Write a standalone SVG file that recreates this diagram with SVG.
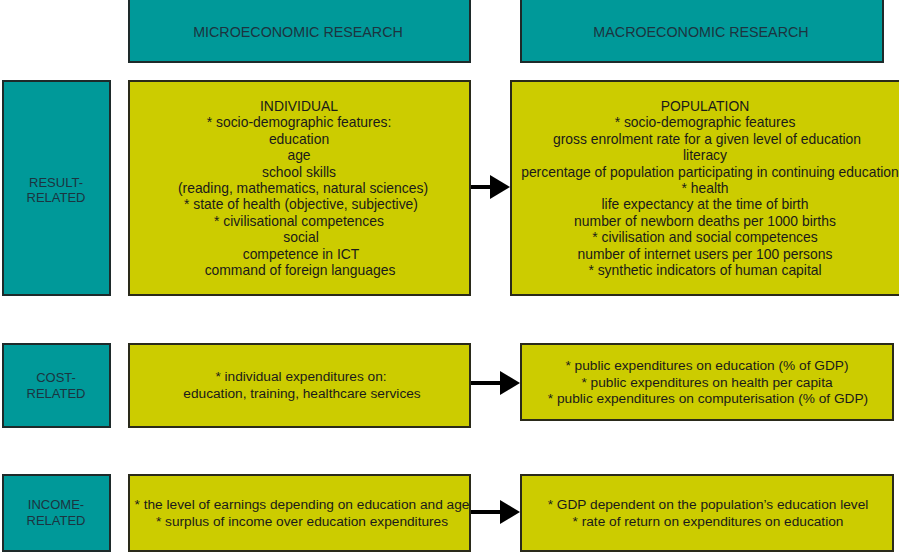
<svg xmlns="http://www.w3.org/2000/svg" width="899" height="552" viewBox="0 0 899 552">
<style>
.teal{fill:#009999;stroke:#1e2a2a;stroke-width:2}
.yel{fill:#cccc00;stroke:#2a2a1a;stroke-width:2}
.th{font-family:"Liberation Sans",Arial,sans-serif;font-size:14.3px;fill:#1c3440;text-anchor:middle}
.tl{font-family:"Liberation Sans",Arial,sans-serif;font-size:13px;fill:#1c3440;text-anchor:middle}
.ty{font-family:"Liberation Sans",Arial,sans-serif;font-size:13.9px;fill:#1a1a1a;text-anchor:middle}
.tb{font-family:"Liberation Sans",Arial,sans-serif;font-size:13.7px;fill:#1a1a1a;text-anchor:middle}
.conn{stroke:#000;stroke-width:4;fill:none}
</style>
<defs>
<marker id="ah" markerWidth="5" markerHeight="6" refX="0" refY="3" orient="auto" markerUnits="strokeWidth">
<path d="M0,0 L5,3 L0,6 Z" fill="#000"/>
</marker>
</defs>
<rect width="899" height="552" fill="#fff"/>

<g id="hdr-micro">
<rect class="teal" x="129" y="-2" width="341" height="64"/>
<text class="th" x="298" y="37">MICROECONOMIC RESEARCH</text>
</g>
<g id="hdr-macro">
<rect class="teal" x="521" y="-2" width="362" height="64"/>
<text class="th" x="701" y="37">MACROECONOMIC RESEARCH</text>
</g>

<g id="row-result">
<rect class="teal" x="3" y="81" width="107" height="214"/>
<text class="tl" x="56" y="187">RESULT-</text>
<text class="tl" x="56" y="202">RELATED</text>
</g>
<g id="micro-result">
<rect class="yel" x="129" y="81" width="341" height="214"/>
<text class="ty" x="299" y="111">INDIVIDUAL</text>
<text class="ty" x="299" y="127">* socio-demographic features:</text>
<text class="ty" x="299" y="144">education</text>
<text class="ty" x="299" y="160">age</text>
<text class="ty" x="299" y="177">school skills</text>
<text class="ty" x="303" y="193">(reading, mathematics, natural sciences)</text>
<text class="ty" x="301" y="209">* state of health (objective, subjective)</text>
<text class="ty" x="299" y="226">* civilisational competences</text>
<text class="ty" x="301" y="242">social</text>
<text class="ty" x="301" y="259">competence in ICT</text>
<text class="ty" x="300" y="275">command of foreign languages</text>
</g>
<g id="macro-result">
<rect class="yel" x="511" y="81" width="392" height="214"/>
<text class="ty" x="705" y="111">POPULATION</text>
<text class="ty" x="705" y="127">* socio-demographic features</text>
<text class="ty" x="707" y="144">gross enrolment rate for a given level of education</text>
<text class="ty" x="705" y="160">literacy</text>
<text class="ty" x="710" y="177">percentage of population participating in continuing education</text>
<text class="ty" x="705" y="193">* health</text>
<text class="ty" x="705" y="209">life expectancy at the time of birth</text>
<text class="ty" x="705" y="226">number of newborn deaths per 1000 births</text>
<text class="ty" x="705" y="242">* civilisation and social competences</text>
<text class="ty" x="705" y="259">number of internet users per 100 persons</text>
<text class="ty" x="705" y="275">* synthetic indicators of human capital</text>
</g>

<g id="row-cost">
<rect class="teal" x="3" y="344" width="107" height="83"/>
<text class="tl" x="56" y="382">COST-</text>
<text class="tl" x="56" y="398">RELATED</text>
</g>
<g id="micro-cost">
<rect class="yel" x="129" y="344" width="341" height="83"/>
<text class="tb" x="301" y="381">* individual expenditures on:</text>
<text class="tb" x="302" y="398">education, training, healthcare services</text>
</g>
<g id="macro-cost">
<rect class="yel" x="521" y="344" width="372" height="76"/>
<text class="tb" x="707" y="370">* public expenditures on education (% of GDP)</text>
<text class="tb" x="707" y="387">* public expenditures on health per capita</text>
<text class="tb" x="708" y="403">* public expenditures on computerisation (% of GDP)</text>
</g>

<g id="row-income">
<rect class="teal" x="3" y="475" width="107" height="76"/>
<text class="tl" x="56" y="509">INCOME-</text>
<text class="tl" x="56" y="525">RELATED</text>
</g>
<g id="micro-income">
<rect class="yel" x="129" y="475" width="341" height="76"/>
<text class="tb" x="302" y="509">* the level of earnings depending on education and age</text>
<text class="tb" x="302" y="526">* surplus of income over education expenditures</text>
</g>
<g id="macro-income">
<rect class="yel" x="521" y="475" width="372" height="76"/>
<text class="tb" x="708" y="509">* GDP dependent on the population’s education level</text>
<text class="tb" x="708" y="526">* rate of return on expenditures on education</text>
</g>

<g id="connectors">
<line class="conn" x1="471" y1="187" x2="490" y2="187" marker-end="url(#ah)"/>
<line class="conn" x1="471" y1="383" x2="500" y2="383" marker-end="url(#ah)"/>
<line class="conn" x1="471" y1="512" x2="500" y2="512" marker-end="url(#ah)"/>
</g>
</svg>
